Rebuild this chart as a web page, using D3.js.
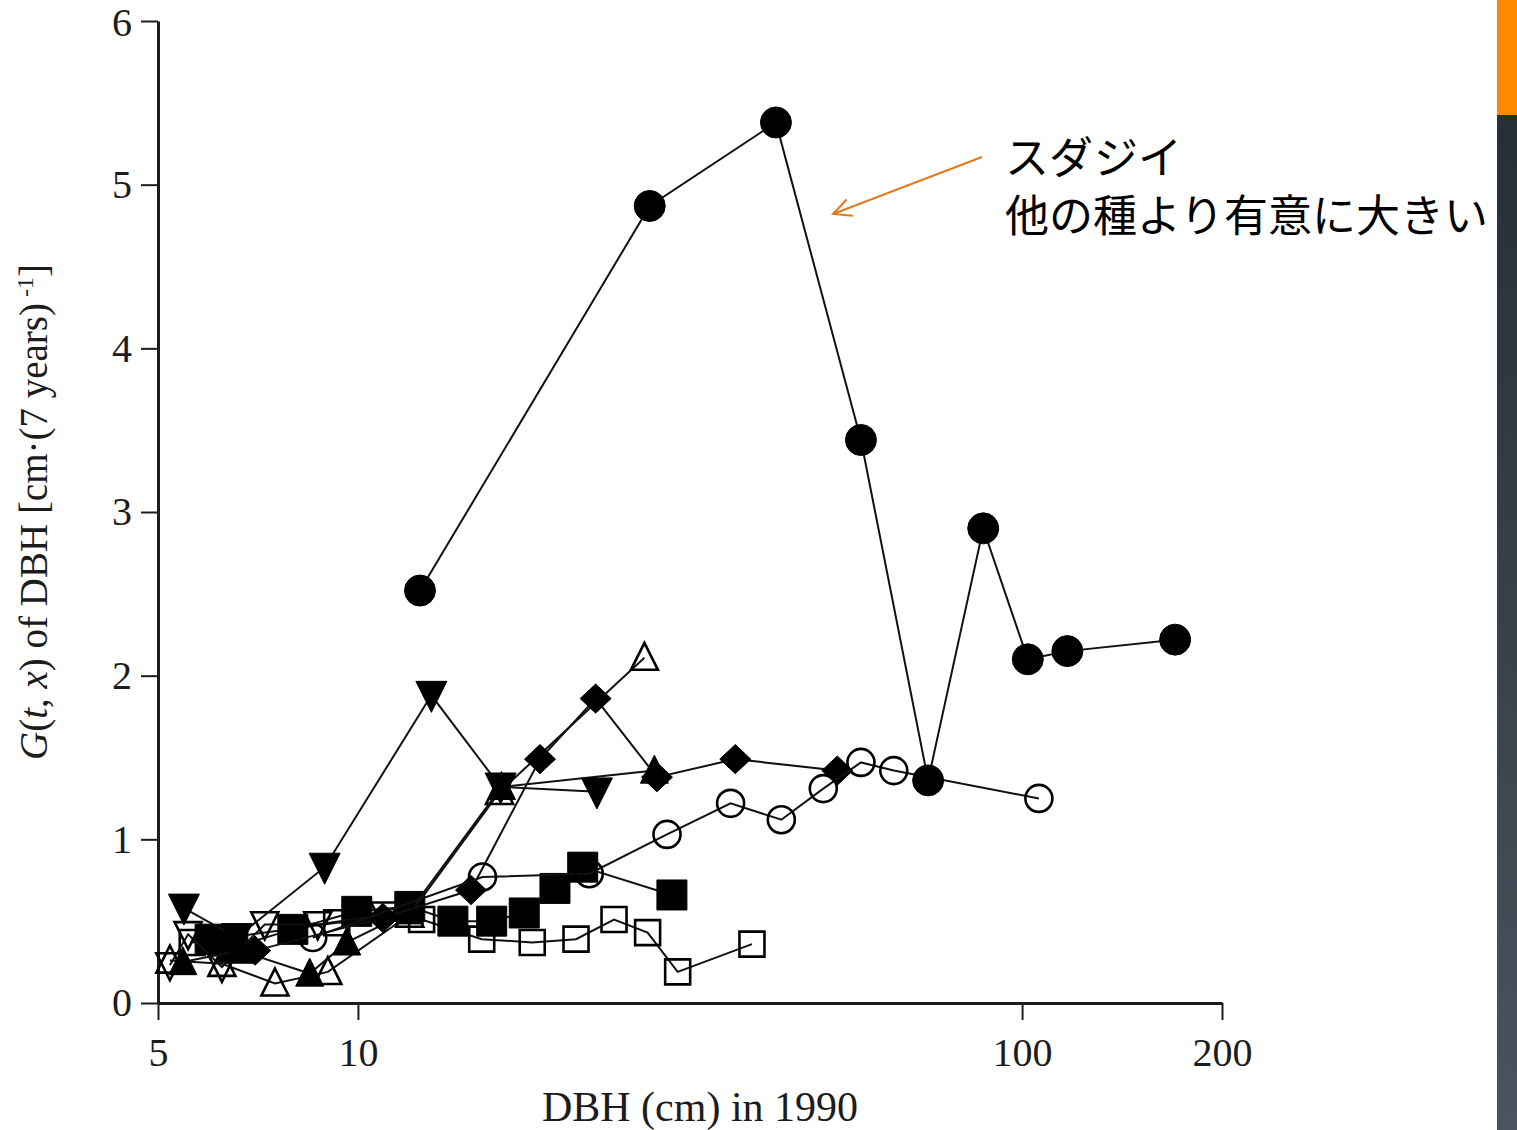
<!DOCTYPE html>
<html>
<head>
<meta charset="utf-8">
<script src="https://cdn.jsdelivr.net/npm/d3@7"></script>
<style>
  html, body { margin: 0; padding: 0; background: #fff; }
  svg { display: block; }
</style>
</head>
<body>
<script>
// Growth G(t, x) of DBH against DBH in 1990, one series per species.

// ---- data -------------------------------------------------------------
const sudajiiDbh = [12.4, 27.5, 42.6, 57.2, 72.2, 87.4, 102, 117, 170];
const sudajiiG   = [2.52, 4.87, 5.38, 3.44, 1.36, 2.90, 2.10, 2.15, 2.22];

const openCircleDbh = [8.55, 15.4, 22.3, 29.2, 36.4, 43.4, 50.2, 57.2, 64.1, 106];
const openCircleG   = [0.40, 0.77, 0.79, 1.03, 1.22, 1.12, 1.31, 1.47, 1.42, 1.25];

const downTriDbh = [5.47, 6.57, 8.91, 12.9, 16.4, 22.9];
const downTriG   = [0.58, 0.40, 0.83, 1.88, 1.32, 1.29];

const diamondDbh = [7.0, 10.9, 14.8, 18.8, 22.8, 28.2, 37.0, 52.7];
const diamondG   = [0.32, 0.52, 0.69, 1.49, 1.86, 1.38, 1.49, 1.42];

const upTriDbh = [5.45, 6.64, 8.46, 9.62, 11.97, 16.45, 27.95];
const upTriG   = [0.25, 0.32, 0.18, 0.37, 0.56, 1.32, 1.42];

const openTriDbh = [5.21, 6.24, 7.50, 9.01, 11.97, 16.34, 27.0];
const openTriG   = [0.26, 0.24, 0.12, 0.19, 0.54, 1.29, 2.11];

const openDownTriDbh = [5.21, 5.55, 6.24, 7.24, 8.70, 10.97];
const openDownTriG   = [0.23, 0.42, 0.22, 0.48, 0.48, 0.54];

const squareDbh = [5.99, 6.48, 7.98, 9.96, 11.97, 13.9, 15.9, 17.8, 19.8, 21.8, 29.7];
const squareG   = [0.39, 0.34, 0.45, 0.56, 0.59, 0.50, 0.50, 0.55, 0.70, 0.83, 0.66];

const openSquareDbh = [5.63, 9.29, 12.47, 15.36, 18.3, 21.3, 24.3, 27.3, 30.3, 39.2];
const openSquareG   = [0.37, 0.49, 0.51, 0.39, 0.37, 0.39, 0.51, 0.43, 0.19, 0.36];

const xMajorTicks = [5, 10, 100, 200];
const xMinorTicks = [6, 7, 8, 9, 20, 30, 40, 50, 60, 70, 80, 90];
const yTicks = [0, 1, 2, 3, 4, 5, 6];

const xTitle = "DBH (cm) in 1990";
const noteLines = ["スダジイ", "他の種より有意に大きい"];

// ---- layout -----------------------------------------------------------
const W = 1517, H = 1130;
const svg = d3.select("body").append("svg")
  .attr("width", W).attr("height", H)
  .attr("viewBox", `0 0 ${W} ${H}`);

svg.append("rect").attr("width", W).attr("height", H).attr("fill", "#fff");

const x = d3.scaleLog().domain([5, 200]).range([158, 1222]);
const y = d3.scaleLinear().domain([0, 6]).range([1003, 21]);

const serif = "'Liberation Serif', 'DejaVu Serif', serif";
const ink = "#1c1c1c";

// ---- axes -------------------------------------------------------------
const gx = svg.append("g").attr("transform", `translate(0,${y(0)})`);
gx.call(d3.axisBottom(x).tickValues(xMinorTicks).tickSize(10).tickSizeOuter(0).tickFormat(""));
gx.call(d3.axisBottom(x).tickValues(xMajorTicks).tickSize(17).tickSizeOuter(0)
  .tickPadding(18).tickFormat(d3.format("d")));
gx.selectAll("path.domain").attr("stroke", ink).attr("stroke-width", 3);
gx.selectAll("line").attr("stroke", ink).attr("stroke-width", 2);
gx.selectAll("text").attr("font-family", serif).attr("font-size", 40).attr("fill", ink);

const gy = svg.append("g").attr("transform", `translate(${x(5)},0)`);
gy.call(d3.axisLeft(y).tickValues(yTicks).tickSize(17).tickSizeOuter(0).tickPadding(9)
  .tickFormat(d3.format("d")));
gy.selectAll("path.domain").attr("stroke", ink).attr("stroke-width", 3);
gy.selectAll("line").attr("stroke", ink).attr("stroke-width", 2);
gy.selectAll("text").attr("font-family", serif).attr("font-size", 40).attr("fill", ink);
// keep the top label fully inside the page
gy.selectAll(".tick").filter(d => d === 6).select("text").attr("dy", "0.36em");

// axis titles
svg.append("text")
  .attr("x", 700).attr("y", 1121)
  .attr("text-anchor", "middle")
  .attr("font-family", serif).attr("font-size", 42).attr("fill", ink)
  .text(xTitle);

const yt = svg.append("text")
  .attr("transform", "translate(47,512) rotate(-90)")
  .attr("text-anchor", "middle")
  .attr("font-family", serif).attr("font-size", 39).attr("fill", ink);
yt.append("tspan").attr("font-style", "italic").text("G");
yt.append("tspan").text("(");
yt.append("tspan").attr("font-style", "italic").text("t");
yt.append("tspan").text(", ");
yt.append("tspan").attr("font-style", "italic").text("x");
yt.append("tspan").text(") of DBH [cm\u00b7(7 years)");
yt.append("tspan").attr("font-size", 24).attr("dy", -14).text(" -1");
yt.append("tspan").attr("dy", 14).text("]");

// ---- marker shapes (size = nominal width in px) ----------------------
const shapes = {
  circle:  { draw(c, s) { const r = s / 2; c.moveTo(r, 0); c.arc(0, 0, r, 0, 2 * Math.PI); } },
  square:  { draw(c, s) { c.rect(-s / 2, -s / 2, s, s); } },
  triUp:   { draw(c, s) { c.moveTo(0, -0.55 * s); c.lineTo(s / 2, 0.45 * s); c.lineTo(-s / 2, 0.45 * s); c.closePath(); } },
  triDown: { draw(c, s) { c.moveTo(0, 0.55 * s); c.lineTo(s / 2, -0.45 * s); c.lineTo(-s / 2, -0.45 * s); c.closePath(); } },
  diamond: { draw(c, s) { const w = s / 2, h = s * 0.47; c.moveTo(0, -h); c.lineTo(w, 0); c.lineTo(0, h); c.lineTo(-w, 0); c.closePath(); } }
};

const series = [
  { dbh: openSquareDbh,  g: openSquareG,  shape: "square",  filled: false, size: 25 },
  { dbh: squareDbh,      g: squareG,      shape: "square",  filled: true,  size: 30 },
  { dbh: openDownTriDbh, g: openDownTriG, shape: "triDown", filled: false, size: 27 },
  { dbh: openTriDbh,     g: openTriG,     shape: "triUp",   filled: false, size: 27 },
  { dbh: upTriDbh,       g: upTriG,       shape: "triUp",   filled: true,  size: 28 },
  { dbh: diamondDbh,     g: diamondG,     shape: "diamond", filled: true,  size: 31 },
  { dbh: downTriDbh,     g: downTriG,     shape: "triDown", filled: true,  size: 31 },
  { dbh: openCircleDbh,  g: openCircleG,  shape: "circle",  filled: false, size: 27 },
  { dbh: sudajiiDbh,     g: sudajiiG,     shape: "circle",  filled: true,  size: 31 }
];

const line = d3.line().x(d => x(d[0])).y(d => y(d[1]));
const plot = svg.append("g");

series.forEach(s => {
  const pts = s.dbh.map((v, i) => [v, s.g[i]]);
  const grp = plot.append("g");
  grp.append("path")
    .attr("d", line(pts))
    .attr("fill", "none")
    .attr("stroke", "#111")
    .attr("stroke-width", 2);
  const sym = d3.symbol().type(shapes[s.shape]).size(s.size);
  grp.selectAll("path.mk").data(pts).join("path")
    .attr("class", "mk")
    .attr("transform", d => `translate(${x(d[0])},${y(d[1])})`)
    .attr("d", sym)
    .attr("fill", s.filled ? "#000" : "none")
    .attr("stroke", "#000")
    .attr("stroke-width", s.filled ? 1 : 2.6);
});

// ---- annotation -------------------------------------------------------
const orange = "#e07a1e";
const ax0 = 982, ay0 = 157, ax1 = 833, ay1 = 214;
svg.append("line")
  .attr("x1", ax0).attr("y1", ay0).attr("x2", ax1).attr("y2", ay1)
  .attr("stroke", orange).attr("stroke-width", 2);
const ang = Math.atan2(ay0 - ay1, ax0 - ax1);
const headLen = 20, spread = 0.45;
svg.append("path")
  .attr("d", `M${ax1 + headLen * Math.cos(ang - spread)},${ay1 + headLen * Math.sin(ang - spread)}` +
             `L${ax1},${ay1}` +
             `L${ax1 + headLen * Math.cos(ang + spread)},${ay1 + headLen * Math.sin(ang + spread)}`)
  .attr("fill", "none").attr("stroke", orange).attr("stroke-width", 2);

svg.selectAll("text.note").data(noteLines).join("text")
  .attr("class", "note")
  .attr("x", 1005)
  .attr("y", (d, i) => 174 + i * 58)
  .attr("font-family", "'Noto Sans CJK JP', sans-serif")
  .attr("font-size", 44)
  .attr("fill", "#000")
  .text(d => d);

// ---- slide edge bar ---------------------------------------------------
const defs = svg.append("defs");
const grad = defs.append("linearGradient").attr("id", "edgeGrad")
  .attr("x1", 0).attr("y1", 0).attr("x2", 0).attr("y2", 1);
grad.append("stop").attr("offset", "0%").attr("stop-color", "#262e36");
grad.append("stop").attr("offset", "100%").attr("stop-color", "#4a545e");

svg.append("rect").attr("x", 1497).attr("y", 115).attr("width", 20).attr("height", H - 115)
  .attr("fill", "url(#edgeGrad)");
svg.append("rect").attr("x", 1497).attr("y", 0).attr("width", 20).attr("height", 115)
  .attr("fill", "#ff8a00");
</script>
</body>
</html>
